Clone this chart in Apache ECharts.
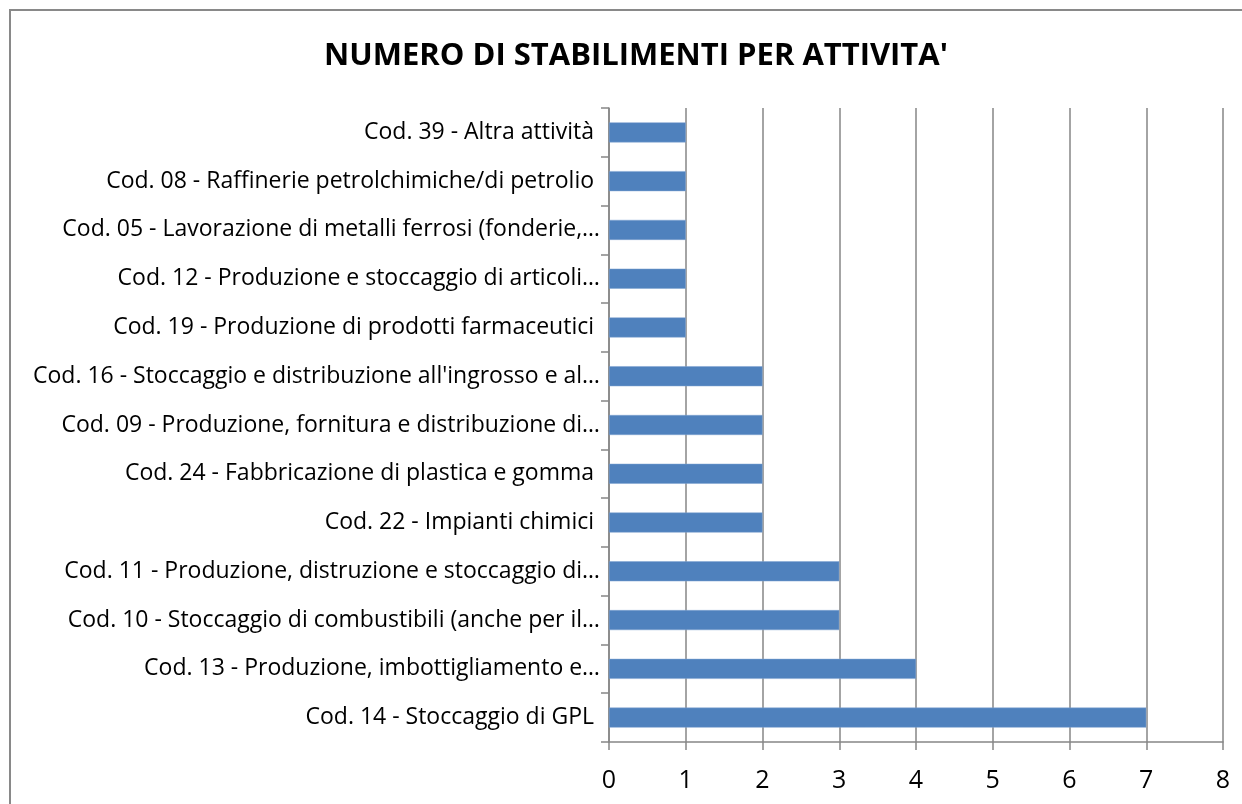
<!DOCTYPE html>
<html>
<head>
<meta charset="utf-8">
<script src="https://cdn.jsdelivr.net/npm/echarts@6/dist/echarts.min.js"></script>
<style>
  html, body { margin: 0; padding: 0; background: #fff; }
  #chart { width: 1242px; height: 804px; }
</style>
</head>
<body>
<div id="chart"></div>
<script>
// categories from bottom to top (category axis starts at the bottom)
const categories = [
  'Cod. 14 - Stoccaggio di GPL ',
  'Cod. 13 - Produzione, imbottigliamento e…',
  'Cod. 10 - Stoccaggio di combustibili (anche per il…',
  'Cod. 11 - Produzione, distruzione e stoccaggio di…',
  'Cod. 22 - Impianti chimici ',
  'Cod. 24 - Fabbricazione di plastica e gomma ',
  'Cod. 09 - Produzione, fornitura e distribuzione di…',
  "Cod. 16 - Stoccaggio e distribuzione all'ingrosso e al…",
  'Cod. 19 - Produzione di prodotti farmaceutici ',
  'Cod. 12 - Produzione e stoccaggio di articoli…',
  'Cod. 05 - Lavorazione di metalli ferrosi (fonderie,…',
  'Cod. 08 - Raffinerie petrolchimiche/di petrolio ',
  'Cod. 39 - Altra attività '
]
const values = [7, 4, 3, 3, 2, 2, 2, 2, 1, 1, 1, 1, 1]
const xTicks = [0, 8, 1] // min, max, interval

const myChart = echarts.init(document.getElementById('chart'))
const option = {
  animation: false,
  textStyle: { fontFamily: 'Open Sans' },
  title: {
    text: "NUMERO DI STABILIMENTI PER ATTIVITA'",
    left: 631,
    textAlign: 'center',
    top: 36,
    textStyle: { fontFamily: 'Open Sans', fontSize: 31, fontWeight: 'bold', color: '#000' }
  },
  graphic: [{
    type: 'rect',
    shape: { x: 10, y: 10, width: 1400, height: 1000 },
    style: { fill: 'none', stroke: '#898989', lineWidth: 2 }
  }],
  grid: { left: 609, right: 19, top: 108, bottom: 62, containLabel: false },
  xAxis: {
    type: 'value',
    min: xTicks[0],
    max: xTicks[1],
    interval: xTicks[2],
    axisLine: { show: true, lineStyle: { color: '#868686', width: 1.5 } },
    axisTick: { show: true, length: 8, lineStyle: { color: '#868686', width: 1.5 } },
    splitLine: { show: true, lineStyle: { color: '#868686', width: 1.5 } },
    axisLabel: { color: '#000', fontSize: 25, margin: 26 }
  },
  yAxis: {
    type: 'category',
    data: categories,
    axisLine: { show: true, lineStyle: { color: '#868686', width: 1.5 } },
    axisTick: { show: true, length: 8, lineStyle: { color: '#868686', width: 1.5 } },
    axisLabel: { color: '#000', fontSize: 23, margin: 9 }
  },
  series: [{
    type: 'bar',
    data: values,
    barCategoryGap: '59%',
    itemStyle: { color: '#4F81BD', borderColor: '#7FA3D0', borderWidth: 0.5 }
  }]
}
myChart.setOption(option)
</script>
</body>
</html>
